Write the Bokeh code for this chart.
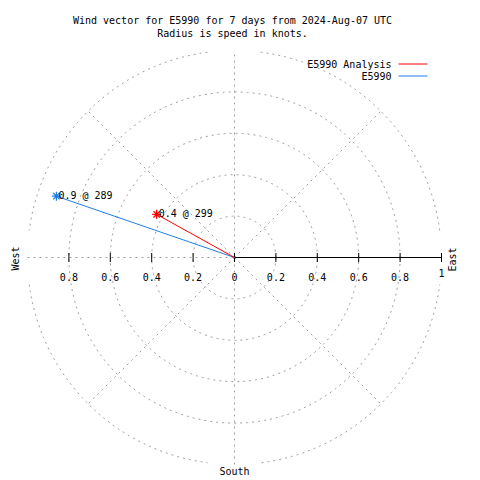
import numpy as np
from bokeh.plotting import figure
from bokeh.models import Label, Range1d
from bokeh.embed import file_html
from bokeh.resources import INLINE

# ---- data ----
series = ["E5990 Analysis", "E5990"]
speeds = [0.43, 0.91]          # knots
directions = [299, 289]        # degrees (compass)
colors = ["#ff0000", "#1e7ee6"]
ring_radii = [0.2, 0.4, 0.6, 0.8, 1.0]
tick_values = [-0.8, -0.6, -0.4, -0.2, 0.0, 0.2, 0.4, 0.6, 0.8, 1.0]
tick_labels = ["0.8", "0.6", "0.4", "0.2", "0", "0.2", "0.4", "0.6", "0.8", "1"]
title_lines = ["Wind vector for E5990 for 7 days from 2024-Aug-07 UTC",
               "Radius is speed in knots."]

# ---- layout helpers (page pixels -> data) ----
S = 207.0
CX, CY = 234.0, 257.0
def dx(xp): return (xp - CX) / S
def dy(yp): return (CY - yp) / S

FONT = "DejaVu Sans Mono"
FS = "10px"
TC = "black"
GRID = "#a0a0a0"
DASH = "2 4"

p = figure(width=480, height=480, output_backend="svg", toolbar_location=None,
           x_axis_type=None, y_axis_type=None,
           x_range=Range1d(dx(0), dx(480)), y_range=Range1d(dy(480), dy(0)),
           min_border=0)
p.outline_line_color = None
p.grid.visible = False
p.background_fill_color = "white"
p.border_fill_color = "white"

def label(x, y, text, align="center", angle=0.0, xo=0, yo=0):
    p.add_layout(Label(x=x, y=y, text=text, angle=angle, x_offset=xo, y_offset=yo,
                       text_font=FONT, text_font_size=FS, text_color=TC,
                       text_align=align, text_baseline="middle"))

# ---- grid rings ----
xs, ys = [], []
for r in ring_radii[:-1]:
    t = np.linspace(0, 2 * np.pi, 241)
    xs.append(list(r * np.cos(t))); ys.append(list(r * np.sin(t)))
rmax = ring_radii[-1]
for a0, a1 in [(7.5, 83.5), (97.5, 172.5), (187.5, 262.5), (277.5, 352.5)]:
    t = np.radians(np.linspace(a0, a1, 80))
    xs.append(list(rmax * np.cos(t))); ys.append(list(rmax * np.sin(t)))
p.multi_line(xs, ys, line_color=GRID, line_dash=DASH, line_width=1)

# radial spokes
spoke_angles = [45, 135, 225, 315]
p.segment(x0=[0] * 4, y0=[0] * 4,
          x1=[rmax * np.cos(np.radians(a)) for a in spoke_angles],
          y1=[rmax * np.sin(np.radians(a)) for a in spoke_angles],
          line_color=GRID, line_dash=DASH, line_width=1)
# vertical & left horizontal dashed axes
p.segment(x0=[0, -rmax], y0=[-rmax, 0], x1=[0, 0], y1=[rmax, 0],
          line_color=GRID, line_dash=DASH, line_width=1)

# ---- solid east axis & ticks ----
p.segment(x0=[0], y0=[0], x1=[rmax], y1=[0], line_color="black", line_width=1)
tk = 4.5 / S
p.segment(x0=tick_values, y0=[-tk] * len(tick_values), x1=tick_values, y1=[tk] * len(tick_values),
          line_color="black", line_width=1)
for v, lab in zip(tick_values, tick_labels):
    yy = dy(272) if lab == "1" else dy(276)
    label(v, yy, lab)

# ---- wind vectors ----
px = [s * np.sin(np.radians(d)) for s, d in zip(speeds, directions)]
py = [s * np.cos(np.radians(d)) for s, d in zip(speeds, directions)]
for i in [1, 0]:
    p.segment(x0=[0], y0=[0], x1=[px[i]], y1=[py[i]], line_color=colors[i], line_width=1)
    p.scatter([px[i]], [py[i]], marker="asterisk", size=9, line_color=colors[i], line_width=1.3)
    label(px[i], py[i], f"{speeds[i]:.1f} @ {directions[i]}", align="left", xo=2, yo=1)

# ---- compass labels ----
label(dx(452), dy(259), "East", angle=np.pi / 2)
label(dx(15), dy(258), "West", angle=np.pi / 2)
label(dx(234), dy(471), "South")

# ---- title ----
for k, line in enumerate(title_lines):
    label(dx(232), dy(20 + 13 * k), line)

# ---- legend ----
for k, (name, c) in enumerate(zip(series, colors)):
    yy = dy(63.5 + 12 * k)
    label(dx(391), yy, name, align="right")
    p.segment(x0=[dx(398)], y0=[yy], x1=[dx(427)], y1=[yy], line_color=c, line_width=1)

open("out.html", "w").write(file_html(p, INLINE))
